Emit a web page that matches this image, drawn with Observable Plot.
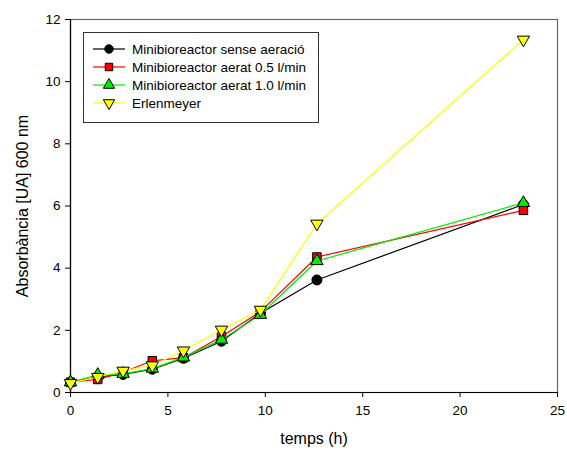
<!DOCTYPE html>
<html>
<head>
<meta charset="utf-8">
<script src="https://cdn.jsdelivr.net/npm/d3@7"></script>
<script src="https://cdn.jsdelivr.net/npm/@observablehq/plot@0.6"></script>
<style>
  html, body { margin: 0; padding: 0; background: #fff; }
  #chart { position: relative; width: 567px; height: 452px; font-family: "Liberation Sans", Arial, sans-serif; }
  #legend { position: absolute; left: 83px; top: 32px; }
</style>
</head>
<body>
<div id="chart"></div>
<script>
// Sampling times (h)
const temps = [0, 1.4, 2.7, 4.2, 5.8, 7.75, 9.75, 12.65, 23.25];

// Absorbance at 600 nm for each culture
const senseAeracio = [0.33, 0.5, 0.58, 0.75, 1.1, 1.65, 2.55, 3.62, 6.05];
const aerat05 = [0.33, 0.42, 0.65, 1.02, 1.12, 1.8, 2.6, 4.36, 5.86];
const aerat10 = [0.33, 0.57, 0.6, 0.77, 1.13, 1.7, 2.5, 4.23, 6.1];
const erlenmeyer = [0.3, 0.5, 0.7, 0.87, 1.35, 2.02, 2.66, 5.43, 11.35];

const seriesNames = [
  "Minibioreactor sense aeració",
  "Minibioreactor aerat 0.5 l/min",
  "Minibioreactor aerat 1.0 l/min",
  "Erlenmeyer"
];
const seriesValues = [senseAeracio, aerat05, aerat10, erlenmeyer];
const seriesColors = ["#000000", "#ff0000", "#00ee00", "#ffff00"];

const xTicks = [0, 5, 10, 15, 20, 25];
const yTicks = [0, 2, 4, 6, 8, 10, 12];
const xLabel = "temps (h)";
const yLabel = "Absorbància [UA] 600 nm";

// Downward-pointing triangle (d3 has only the upward one)
const triangleDown = {
  draw(context, size) {
    const y = -Math.sqrt(size / (3 * Math.sqrt(3)));
    context.moveTo(0, -y * 2);
    context.lineTo(-Math.sqrt(3) * y, y);
    context.lineTo(Math.sqrt(3) * y, y);
    context.closePath();
  }
};
const seriesSymbols = ["circle", "square", "triangle", triangleDown];
const seriesR = [5, 4.8, 4.6, 4.6];

const marks = [];
seriesValues.forEach((vals, i) => {
  const rows = temps.map((t, j) => ({t, v: vals[j]}));
  marks.push(Plot.line(rows, {x: "t", y: "v", stroke: seriesColors[i], strokeWidth: 1.2}));
  marks.push(Plot.dot(rows, {
    x: "t", y: "v",
    symbol: () => seriesSymbols[i],
    r: seriesR[i],
    fill: seriesColors[i],
    stroke: "#000", strokeWidth: 1
  }));
});

const plot = Plot.plot({
  width: 567,
  height: 452,
  marginLeft: 70,
  marginRight: 10,
  marginTop: 19,
  marginBottom: 60,
  style: {fontFamily: "'Liberation Sans', Arial, sans-serif", fontSize: "13.5px", color: "#000", background: "#fff"},
  x: {domain: [0, 25]},
  y: {domain: [0, 12]},
  symbol: {type: "identity"},
  marks: [
    Plot.frame({stroke: "#666", strokeWidth: 1.2}),
    Plot.axisX({ticks: xTicks, tickSize: 5, tickPadding: 8, fontSize: 13.5, label: null, tickFormat: d3.format("d")}),
    Plot.axisY({ticks: yTicks, tickSize: 5, tickPadding: 5, fontSize: 13.5, label: null, tickFormat: d3.format("d")}),
    Plot.text([xLabel], {text: d => d, frameAnchor: "bottom", dy: 51, fontSize: 16}),
    Plot.text([yLabel], {text: d => d, frameAnchor: "left", dx: -48, rotate: -90, textAnchor: "middle", fontSize: 16}),
    Plot.ruleX([0], {stroke: "#000", strokeWidth: 1.2}),
    Plot.ruleY([0], {stroke: "#000", strokeWidth: 1.2}),
    ...marks
  ]
});
document.getElementById("chart").appendChild(plot);

// Legend box
const legendW = 235, legendH = 90;
const lg = d3.select("#chart").append("svg")
  .attr("id", "legend")
  .attr("width", legendW + 2)
  .attr("height", legendH + 2);
lg.append("rect").attr("x", 0.5).attr("y", 0.5).attr("width", legendW).attr("height", legendH)
  .attr("fill", "#fff").attr("stroke", "#333").attr("stroke-width", 1);
seriesNames.forEach((name, i) => {
  const cy = 17 + i * 18;
  const g = lg.append("g");
  g.append("line").attr("x1", 10).attr("x2", 42).attr("y1", cy).attr("y2", cy)
    .attr("stroke", seriesColors[i]).attr("stroke-width", 1.2);
  const sym = typeof seriesSymbols[i] === "string"
    ? {circle: d3.symbolCircle, square: d3.symbolSquare, triangle: d3.symbolTriangle}[seriesSymbols[i]]
    : seriesSymbols[i];
  g.append("path").attr("transform", `translate(26,${cy})`)
    .attr("d", d3.symbol(sym, Math.PI * 4.2 * 4.2)())
    .attr("fill", seriesColors[i]).attr("stroke", "#000").attr("stroke-width", 1);
  g.append("text").attr("x", 49).attr("y", cy).attr("dy", "0.35em")
    .attr("font-size", 13.5).attr("font-family", "'Liberation Sans', Arial, sans-serif")
    .text(name);
});
</script>
</body>
</html>
